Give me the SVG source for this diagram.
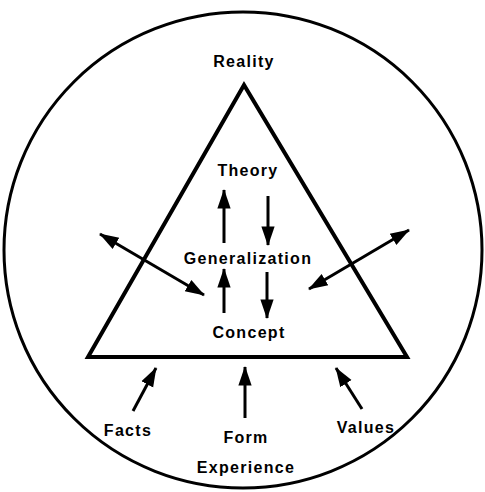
<svg xmlns="http://www.w3.org/2000/svg" width="485" height="492" viewBox="0 0 485 492">
<style>
text{font-family:"Liberation Sans",Arial,sans-serif;font-size:16px;font-weight:bold;fill:#000;text-anchor:middle;letter-spacing:1.3px}
.ln{stroke:#000;fill:none}
.ar{stroke:#000;stroke-width:3;fill:none}
</style>
<defs>
<marker id="hb" viewBox="0 0 10 10" refX="9.5" refY="5" markerWidth="6.5" markerHeight="6.5" orient="auto-start-reverse">
<path d="M0,1.6 L10,5 L0,8.4 z" fill="#000"/>
</marker>
</defs>
<rect width="485" height="492" fill="#fff"/>
<g id="frame">
<ellipse class="ln" cx="243" cy="250" rx="239" ry="238" stroke-width="3"/>
<polygon class="ln" points="244,85 88,357 407,357" stroke-width="4" stroke-linejoin="miter"/>
</g>
<g id="labels">
<text x="244" y="67">Reality</text>
<text x="248" y="176">Theory</text>
<text x="248" y="264">Generalization</text>
<text x="249" y="338">Concept</text>
<text x="128" y="436">Facts</text>
<text x="246" y="443">Form</text>
<text x="366" y="433">Values</text>
<text x="246" y="473">Experience</text>
</g>
<g id="connectors">
<line class="ar" x1="224" y1="243" x2="224" y2="190" marker-end="url(#hb)"/>
<line class="ar" x1="268" y1="196" x2="268" y2="245" marker-end="url(#hb)"/>
<line class="ar" x1="224" y1="313" x2="224" y2="269" marker-end="url(#hb)"/>
<line class="ar" x1="267" y1="272" x2="267" y2="318" marker-end="url(#hb)"/>
<line class="ar" x1="100" y1="234" x2="204" y2="295" marker-start="url(#hb)" marker-end="url(#hb)"/>
<line class="ar" x1="409" y1="230" x2="309" y2="289" marker-start="url(#hb)" marker-end="url(#hb)"/>
<line class="ar" x1="133" y1="411" x2="156" y2="368" marker-end="url(#hb)"/>
<line class="ar" x1="245" y1="418" x2="245" y2="367" marker-end="url(#hb)"/>
<line class="ar" x1="362" y1="409" x2="336" y2="368" marker-end="url(#hb)"/>
</g>
</svg>
